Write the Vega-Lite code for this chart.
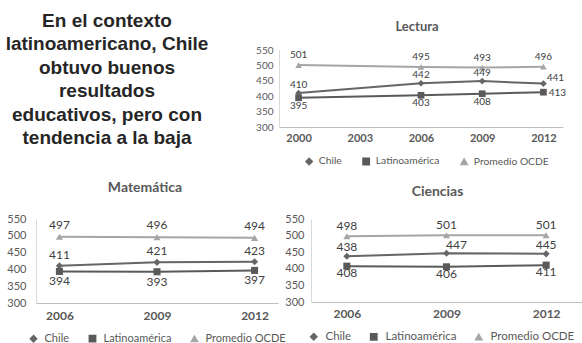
{
  "$schema": "https://vega.github.io/schema/vega-lite/v6.json",
  "padding": {"left": 0, "top": 12, "right": 0, "bottom": 0},
  "background": "white",
  "spacing": 12,
  "resolve": {"scale": {"color": "independent", "shape": "independent"}},
  "config": {
    "view": {"stroke": null},
    "font": "Lato",
    "axis": {"ticks": false, "tickSize": 0, "grid": false, "title": null, "labelColor": "#595959", "domainWidth": 1},
    "title": {"color": "#595959", "fontWeight": "bold", "font": "Lato"}
  },
  "datasets": {
    "intro": [
      {"i": 0, "t": "En el contexto"},
      {"i": 1, "t": "latinoamericano, Chile"},
      {"i": 2, "t": "obtuvo buenos"},
      {"i": 3, "t": "resultados"},
      {"i": 4, "t": "educativos, pero con"},
      {"i": 5, "t": "tendencia a la baja"}
    ],
    "scores": [
      {"subject": "Lectura", "year": "2000", "series": "Chile", "score": 410},
      {"subject": "Lectura", "year": "2006", "series": "Chile", "score": 442},
      {"subject": "Lectura", "year": "2009", "series": "Chile", "score": 449},
      {"subject": "Lectura", "year": "2012", "series": "Chile", "score": 441},
      {"subject": "Lectura", "year": "2000", "series": "Latinoamérica", "score": 395},
      {"subject": "Lectura", "year": "2006", "series": "Latinoamérica", "score": 403},
      {"subject": "Lectura", "year": "2009", "series": "Latinoamérica", "score": 408},
      {"subject": "Lectura", "year": "2012", "series": "Latinoamérica", "score": 413},
      {"subject": "Lectura", "year": "2000", "series": "Promedio OCDE", "score": 501},
      {"subject": "Lectura", "year": "2006", "series": "Promedio OCDE", "score": 495},
      {"subject": "Lectura", "year": "2009", "series": "Promedio OCDE", "score": 493},
      {"subject": "Lectura", "year": "2012", "series": "Promedio OCDE", "score": 496},
      {"subject": "Matemática", "year": "2006", "series": "Chile", "score": 411},
      {"subject": "Matemática", "year": "2009", "series": "Chile", "score": 421},
      {"subject": "Matemática", "year": "2012", "series": "Chile", "score": 423},
      {"subject": "Matemática", "year": "2006", "series": "Latinoamérica", "score": 394},
      {"subject": "Matemática", "year": "2009", "series": "Latinoamérica", "score": 393},
      {"subject": "Matemática", "year": "2012", "series": "Latinoamérica", "score": 397},
      {"subject": "Matemática", "year": "2006", "series": "Promedio OCDE", "score": 497},
      {"subject": "Matemática", "year": "2009", "series": "Promedio OCDE", "score": 496},
      {"subject": "Matemática", "year": "2012", "series": "Promedio OCDE", "score": 494},
      {"subject": "Ciencias", "year": "2006", "series": "Chile", "score": 438},
      {"subject": "Ciencias", "year": "2009", "series": "Chile", "score": 447},
      {"subject": "Ciencias", "year": "2012", "series": "Chile", "score": 445},
      {"subject": "Ciencias", "year": "2006", "series": "Latinoamérica", "score": 408},
      {"subject": "Ciencias", "year": "2009", "series": "Latinoamérica", "score": 406},
      {"subject": "Ciencias", "year": "2012", "series": "Latinoamérica", "score": 411},
      {"subject": "Ciencias", "year": "2006", "series": "Promedio OCDE", "score": 498},
      {"subject": "Ciencias", "year": "2009", "series": "Promedio OCDE", "score": 501},
      {"subject": "Ciencias", "year": "2012", "series": "Promedio OCDE", "score": 501}
    ]
  },
  "vconcat": [
    {
      "bounds": "flush",
      "spacing": 101,
      "resolve": {"scale": {"color": "independent", "shape": "independent"}},
      "hconcat": [
        {
          "width": 142,
          "height": 117,
          "data": {"name": "intro"},
          "mark": {"type": "text", "font": "Liberation Sans", "fontSize": 19, "fontWeight": "bold", "color": "#262626", "align": "center", "baseline": "middle", "dy": -29},
          "encoding": {
            "y": {"field": "i", "type": "ordinal", "scale": {"type": "point", "padding": 0}, "axis": null},
            "text": {"field": "t"}
          }
        },
        {
          "width": 284,
          "height": 77,
          "title": {"text": "Lectura", "fontSize": 13, "offset": 11, "dx": -4},
          "data": {"name": "scores"},
          "transform": [{"filter": "datum.subject === 'Lectura'"}],
          "encoding": {
            "x": {"field": "year", "type": "ordinal", "scale": {"type": "point", "domain": ["2000", "2003", "2006", "2009", "2012"], "padding": 0.32},
                  "axis": {"labelAngle": 0, "labelFontSize": 11, "labelFontWeight": "bold", "labelPadding": 5, "domainColor": "#bfbfbf"}},
            "y": {"field": "score", "type": "quantitative", "scale": {"domain": [300, 550], "nice": false, "zero": false},
                  "axis": {"values": [300, 350, 400, 450, 500, 550], "labelFontSize": 10, "labelPadding": 6, "domainColor": "#d9d9d9"}},
            "color": {"field": "series", "type": "nominal", "title": null,
                      "scale": {"domain": ["Chile", "Latinoamérica", "Promedio OCDE"], "range": ["#666666", "#5a5a5a", "#a6a6a6"]},
                      "legend": {"orient": "none", "legendX": 25, "legendY": 106, "direction": "horizontal", "title": null, "labelFontSize": 10.3, "labelColor": "#595959", "symbolSize": 40, "columnPadding": 17, "labelOffset": 4.5}}
          },
          "layer": [
            {"mark": {"type": "line", "strokeWidth": 2}},
            {"mark": {"type": "point", "filled": true, "opacity": 1, "size": 45},
             "encoding": {"shape": {"field": "series", "type": "nominal", "title": null,
                                    "scale": {"domain": ["Chile", "Latinoamérica", "Promedio OCDE"], "range": ["diamond", "square", "triangle-up"]},
                                    "legend": {"orient": "none", "legendX": 25, "legendY": 106, "direction": "horizontal", "title": null, "labelFontSize": 10.3, "labelColor": "#595959", "symbolSize": 40, "columnPadding": 17, "labelOffset": 4.5}}}},
            {"transform": [{"filter": "datum.series === 'Promedio OCDE'"}],
             "mark": {"type": "text", "fontSize": 10, "dy": -10},
             "encoding": {"text": {"field": "score"}, "color": {"value": "#404040"}}},
            {"transform": [{"filter": "datum.series === 'Chile' && datum.year !== '2012'"}],
             "mark": {"type": "text", "fontSize": 10, "dy": -8},
             "encoding": {"text": {"field": "score"}, "color": {"value": "#404040"}}},
            {"transform": [{"filter": "datum.series === 'Latinoamérica' && datum.year !== '2012'"}],
             "mark": {"type": "text", "fontSize": 10, "dy": 8},
             "encoding": {"text": {"field": "score"}, "color": {"value": "#404040"}}},
            {"transform": [{"filter": "datum.series === 'Chile' && datum.year === '2012'"}],
             "mark": {"type": "text", "fontSize": 10, "dx": 12, "dy": -6},
             "encoding": {"text": {"field": "score"}, "color": {"value": "#404040"}}},
            {"transform": [{"filter": "datum.series === 'Latinoamérica' && datum.year === '2012'"}],
             "mark": {"type": "text", "fontSize": 10, "dx": 14, "dy": 1},
             "encoding": {"text": {"field": "score"}, "color": {"value": "#404040"}}}
          ]
        }
      ]
    },
    {
      "bounds": "flush",
      "spacing": 33,
      "resolve": {"scale": {"color": "independent", "shape": "independent"}},
      "hconcat": [
        {
          "width": 242,
          "height": 84,
          "title": {"text": "Matemática", "fontSize": 14, "offset": 18.5, "dx": -12},
          "data": {"name": "scores"},
          "transform": [{"filter": "datum.subject === 'Matemática'"}],
          "encoding": {
            "x": {"field": "year", "type": "ordinal", "scale": {"type": "point", "domain": ["2006", "2009", "2012"], "padding": 0.24},
                  "axis": {"labelAngle": 0, "labelFontSize": 12, "labelFontWeight": "bold", "labelPadding": 7, "domainColor": "#bfbfbf"}},
            "y": {"field": "score", "type": "quantitative", "scale": {"domain": [300, 550], "nice": false, "zero": false},
                  "axis": {"values": [300, 350, 400, 450, 500, 550], "labelFontSize": 11, "labelPadding": 10, "minExtent": 36, "domainColor": "#d9d9d9"}},
            "color": {"field": "series", "type": "nominal", "title": null,
                      "scale": {"domain": ["Chile", "Latinoamérica", "Promedio OCDE"], "range": ["#666666", "#5a5a5a", "#a6a6a6"]},
                      "legend": {"orient": "none", "legendX": -8, "legendY": 114, "direction": "horizontal", "title": null, "labelFontSize": 11, "labelColor": "#595959", "symbolSize": 40, "columnPadding": 16, "labelOffset": 5.5}}
          },
          "layer": [
            {"mark": {"type": "line", "strokeWidth": 2}},
            {"mark": {"type": "point", "filled": true, "opacity": 1, "size": 50},
             "encoding": {"shape": {"field": "series", "type": "nominal", "title": null,
                                    "scale": {"domain": ["Chile", "Latinoamérica", "Promedio OCDE"], "range": ["diamond", "square", "triangle-up"]},
                                    "legend": {"orient": "none", "legendX": -8, "legendY": 114, "direction": "horizontal", "title": null, "labelFontSize": 11, "labelColor": "#595959", "symbolSize": 40, "columnPadding": 16, "labelOffset": 5.5}}}},
            {"transform": [{"filter": "datum.series === 'Promedio OCDE'"}],
             "mark": {"type": "text", "fontSize": 12, "dy": -12},
             "encoding": {"text": {"field": "score"}, "color": {"value": "#404040"}}},
            {"transform": [{"filter": "datum.series === 'Chile'"}],
             "mark": {"type": "text", "fontSize": 12, "dy": -11},
             "encoding": {"text": {"field": "score"}, "color": {"value": "#404040"}}},
            {"transform": [{"filter": "datum.series === 'Latinoamérica'"}],
             "mark": {"type": "text", "fontSize": 12, "dy": 10},
             "encoding": {"text": {"field": "score"}, "color": {"value": "#404040"}}}
          ]
        },
        {
          "width": 271,
          "height": 83,
          "title": {"text": "Ciencias", "fontSize": 14, "offset": 14.5, "dx": -9},
          "data": {"name": "scores"},
          "transform": [{"filter": "datum.subject === 'Ciencias'"}],
          "encoding": {
            "x": {"field": "year", "type": "ordinal", "scale": {"type": "point", "domain": ["2006", "2009", "2012"], "padding": 0.36},
                  "axis": {"labelAngle": 0, "labelFontSize": 12, "labelFontWeight": "bold", "labelPadding": 6, "domainColor": "#bfbfbf"}},
            "y": {"field": "score", "type": "quantitative", "scale": {"domain": [300, 550], "nice": false, "zero": false},
                  "axis": {"values": [300, 350, 400, 450, 500, 550], "labelFontSize": 11, "labelPadding": 7, "domainColor": "#d9d9d9"}},
            "color": {"field": "series", "type": "nominal", "title": null,
                      "scale": {"domain": ["Chile", "Latinoamérica", "Promedio OCDE"], "range": ["#666666", "#5a5a5a", "#a6a6a6"]},
                      "legend": {"orient": "none", "legendX": -3, "legendY": 112, "direction": "horizontal", "title": null, "labelFontSize": 11.5, "labelColor": "#595959", "symbolSize": 40, "columnPadding": 15, "labelOffset": 6}}
          },
          "layer": [
            {"mark": {"type": "line", "strokeWidth": 2}},
            {"mark": {"type": "point", "filled": true, "opacity": 1, "size": 50},
             "encoding": {"shape": {"field": "series", "type": "nominal", "title": null,
                                    "scale": {"domain": ["Chile", "Latinoamérica", "Promedio OCDE"], "range": ["diamond", "square", "triangle-up"]},
                                    "legend": {"orient": "none", "legendX": -3, "legendY": 112, "direction": "horizontal", "title": null, "labelFontSize": 11.5, "labelColor": "#595959", "symbolSize": 40, "columnPadding": 15, "labelOffset": 6}}}},
            {"transform": [{"filter": "datum.series === 'Promedio OCDE'"}],
             "mark": {"type": "text", "fontSize": 12, "dy": -10},
             "encoding": {"text": {"field": "score"}, "color": {"value": "#404040"}}},
            {"transform": [{"filter": "datum.series === 'Chile' && datum.year !== '2009'"}],
             "mark": {"type": "text", "fontSize": 12, "dy": -9},
             "encoding": {"text": {"field": "score"}, "color": {"value": "#404040"}}},
            {"transform": [{"filter": "datum.series === 'Chile' && datum.year === '2009'"}],
             "mark": {"type": "text", "fontSize": 12, "dx": 10, "dy": -8},
             "encoding": {"text": {"field": "score"}, "color": {"value": "#404040"}}},
            {"transform": [{"filter": "datum.series === 'Latinoamérica'"}],
             "mark": {"type": "text", "fontSize": 12, "dy": 7},
             "encoding": {"text": {"field": "score"}, "color": {"value": "#404040"}}}
          ]
        }
      ]
    }
  ]
}
